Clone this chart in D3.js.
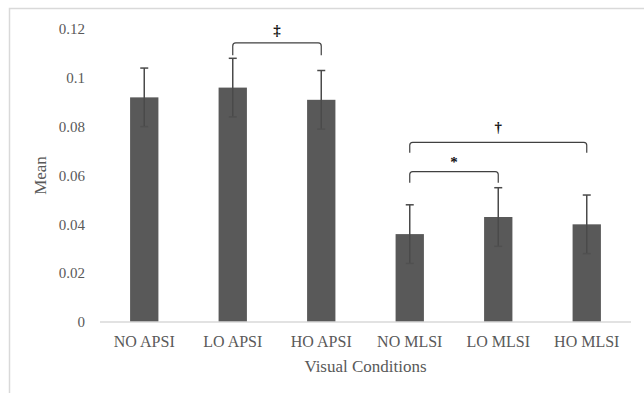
<!DOCTYPE html>
<html><head><meta charset="utf-8">
<script src="https://cdn.jsdelivr.net/npm/d3@7"></script>
<style>body{margin:0;background:#fff}svg{display:block}</style>
</head><body>
<svg id="c" width="644" height="393"></svg>
<script>
const categories = ["NO APSI","LO APSI","HO APSI","NO MLSI","LO MLSI","HO MLSI"];
const means = [0.092, 0.096, 0.091, 0.036, 0.043, 0.040];
const errors = [0.012, 0.012, 0.012, 0.012, 0.012, 0.012];
const yTicks = [0, 0.02, 0.04, 0.06, 0.08, 0.1, 0.12];
const yTickLabels = ["0","0.02","0.04","0.06","0.08","0.1","0.12"];
const brackets = [
  {from:"LO APSI", to:"HO APSI", top:0.1143, leg:0.1093, symbol:"‡", symY:0.1195},
  {from:"NO MLSI", to:"HO MLSI", top:0.0736, leg:0.0693, symbol:"†", symY:0.0800},
  {from:"NO MLSI", to:"LO MLSI", top:0.0616, leg:0.0570, symbol:"*", symY:0.0655}
];

const svg = d3.select("#c");
const font = "'Liberation Serif', 'Times New Roman', serif";
const textCol = "#595959";

svg.append("rect").attr("x",9.5).attr("y",8.5).attr("width",700).attr("height",420)
  .attr("fill","none").attr("stroke","#d9d9d9").attr("stroke-width",1.5);

const x = d3.scaleBand().domain(categories).range([100,631]).paddingInner(0.68).paddingOuter(0.34);
const y = d3.scaleLinear().domain([0,0.12]).range([322,29]);

// y tick labels
svg.append("g").selectAll("text").data(yTicks).join("text")
  .attr("x",85).attr("y",d=>y(d)).attr("dy","0.35em").attr("text-anchor","end")
  .attr("font-family",font).attr("font-size",15).attr("fill",textCol)
  .text((d,i)=>yTickLabels[i]);

// bars
svg.append("g").selectAll("rect").data(means).join("rect")
  .attr("x",(d,i)=>x(categories[i])).attr("width",x.bandwidth())
  .attr("y",d=>y(d)).attr("height",d=>y(0)-y(d)).attr("fill","#595959");

// baseline
svg.append("line").attr("x1",100).attr("x2",631).attr("y1",y(0)).attr("y2",y(0))
  .attr("stroke","#d9d9d9").attr("stroke-width",1.5);

// error bars
const eg = svg.append("g").attr("stroke","#4a4a4a").attr("stroke-width",1.5);
means.forEach((m,i)=>{
  const cx = x(categories[i]) + x.bandwidth()/2;
  eg.append("line").attr("x1",cx).attr("x2",cx).attr("y1",y(m-errors[i])).attr("y2",y(m+errors[i]));
  eg.append("line").attr("x1",cx-4).attr("x2",cx+4).attr("y1",y(m+errors[i])).attr("y2",y(m+errors[i]));
  eg.append("line").attr("x1",cx-4).attr("x2",cx+4).attr("y1",y(m-errors[i])).attr("y2",y(m-errors[i])).attr("stroke","#505050");
});

// x labels
svg.append("g").selectAll("text").data(categories).join("text")
  .attr("x",d=>x(d)+x.bandwidth()/2).attr("y",347).attr("text-anchor","middle")
  .attr("font-family",font).attr("font-size",16).attr("fill",textCol).text(d=>d);

// axis titles
svg.append("text").attr("x",365.5).attr("y",372).attr("text-anchor","middle")
  .attr("font-family",font).attr("font-size",17).attr("fill",textCol).text("Visual Conditions");
svg.append("text").attr("transform","translate(46,175.5) rotate(-90)").attr("text-anchor","middle")
  .attr("font-family",font).attr("font-size",17).attr("fill",textCol).text("Mean");

// brackets
const bg = svg.append("g");
brackets.forEach(b=>{
  const x1 = x(b.from)+x.bandwidth()/2, x2 = x(b.to)+x.bandwidth()/2;
  const yt = y(b.top), yl = y(b.leg), r = 3;
  bg.append("path")
    .attr("d",`M${x1},${yl} V${yt+r} Q${x1},${yt} ${x1+r},${yt} H${x2-r} Q${x2},${yt} ${x2},${yt+r} V${yl}`)
    .attr("fill","none").attr("stroke","#404040").attr("stroke-width",1.2);
  bg.append("text").attr("x",(x1+x2)/2).attr("y",y(b.symY)).attr("dy","0.35em")
    .attr("text-anchor","middle").attr("font-family",font).attr("font-weight","bold")
    .attr("font-size",15).attr("fill","#111").text(b.symbol);
});
</script>
</body></html>
